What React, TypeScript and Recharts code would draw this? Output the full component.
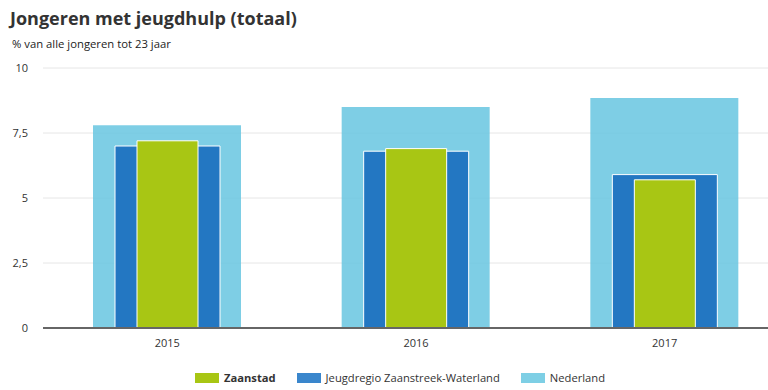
import React from "react";
import { BarChart, Bar, XAxis, YAxis, CartesianGrid } from "recharts";

const years = ["2015", "2016", "2017"];
const zaanstad = [7.2, 6.9, 5.7];
const jeugdregio = [7.0, 6.8, 5.9];
const nederland = [7.8, 8.5, 8.85];
const yTicks = [0, 2.5, 5, 7.5, 10];

const seriesNames = ["Zaanstad", "Jeugdregio Zaanstreek-Waterland", "Nederland"];
const colors = ["#a8c614", "#2377c2", "#67c6e0"];
const legendColors = ["#a8c614", "#3a86cc", "#7ecfe5"];

const data = years.map((y, i) => ({
  year: y,
  zaanstad: zaanstad[i],
  jeugdregio: jeugdregio[i],
  nederland: nederland[i],
}));

const FONT = "'Open Sans', 'Noto Sans', sans-serif";

export default function App() {
  return (
    <div
      style={{
        position: "absolute",
        left: 0,
        top: 0,
        width: 768,
        height: 390,
        overflow: "hidden",
        background: "#fff",
        fontFamily: FONT,
      }}
    >
      <svg width={768} height={60} style={{ position: "absolute", left: 0, top: 0 }}>
        <text x={10} y={25} fontSize={18} fontWeight={700} fill="#333" fontFamily={FONT}>
          Jongeren met jeugdhulp (totaal)
        </text>
        <text x={12} y={48} fontSize={11.3} fill="#222" fontFamily={FONT}>
          % van alle jongeren tot 23 jaar
        </text>
      </svg>
      <div style={{ position: "absolute", left: 0, top: 0 }}>
        <BarChart
          width={789}
          height={390}
          data={data}
          margin={{ top: 68, right: 0, left: 0, bottom: 32 }}
          barGap={0}
          barCategoryGap={0}
        >
          <CartesianGrid vertical={false} stroke="#e6e6e6" />
          <XAxis
            xAxisId="a"
            dataKey="year"
            height={30}
            tickLine={false}
            tickSize={0}
            tickMargin={11}
            axisLine={{ stroke: "#666", strokeWidth: 2 }}
            tick={{ fontSize: 11, fill: "#333", fontFamily: FONT }}
          />
          <XAxis xAxisId="b" dataKey="year" hide />
          <XAxis xAxisId="c" dataKey="year" hide />
          <YAxis
            width={43}
            domain={[0, 10]}
            ticks={yTicks}
            interval={0}
            tickLine={false}
            tickSize={0}
            axisLine={false}
            tickMargin={15}
            tickFormatter={(v: number) => String(v).replace(".", ",")}
            tick={{ fontSize: 11, fill: "#333", fontFamily: FONT }}
          />
          <Bar
            xAxisId="a"
            dataKey="nederland"
            fill={colors[2]}
            fillOpacity={0.85}
            barSize={148}
            isAnimationActive={false}
          />
          <Bar
            xAxisId="b"
            dataKey="jeugdregio"
            fill={colors[1]}
            stroke="#fff"
            strokeWidth={1}
            barSize={105}
            isAnimationActive={false}
          />
          <Bar
            xAxisId="c"
            dataKey="zaanstad"
            fill={colors[0]}
            stroke="#fff"
            strokeWidth={1}
            barSize={61}
            isAnimationActive={false}
          />
        </BarChart>
      </div>
      <div
        style={{
          position: "absolute",
          top: 369,
          left: 0,
          width: 800,
          display: "flex",
          justifyContent: "center",
          alignItems: "center",
          fontSize: 11.2,
          color: "#333",
          fontFamily: FONT,
        }}
      >
        {seriesNames.map((n, i) => (
          <div key={n} style={{ display: "flex", alignItems: "center", marginRight: i < 2 ? 21 : 0 }}>
            <span style={{ display: "inline-block", width: 24, height: 10, background: legendColors[i], marginRight: 5 }} />
            <span style={{ fontWeight: i === 0 ? 700 : 400, lineHeight: "18px" }}>{n}</span>
          </div>
        ))}
      </div>
    </div>
  );
}
